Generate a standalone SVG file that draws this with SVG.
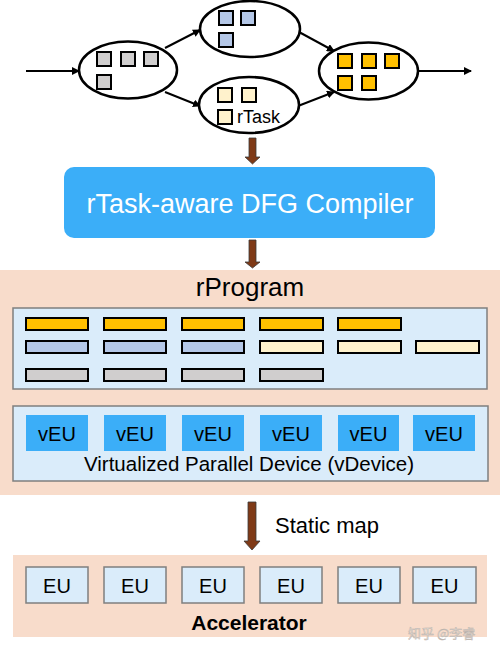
<svg xmlns="http://www.w3.org/2000/svg" width="500" height="653" viewBox="0 0 500 653">
<defs>
<marker id="ah" markerWidth="8" markerHeight="8" refX="7" refY="4" orient="auto" markerUnits="userSpaceOnUse">
<path d="M0,0 L8,4 L0,8 Z" fill="#000"/>
</marker>
<style>
.ell{fill:#fff;stroke:#000;stroke-width:2.5}
.sq{stroke:#000;stroke-width:2}
.g{fill:#D0CECE}.b{fill:#B4C7E7}.c{fill:#FFF2CC}.o{fill:#FFC000}
.conn{stroke:#000;stroke-width:2;fill:none;marker-end:url(#ah)}
.bar{stroke:#000;stroke-width:2}
.panel{fill:#F8DCCB}
.inner{fill:#DAECFA;stroke:#7F7F7F;stroke-width:1.5}
.veu{fill:#3BAEF8}
.eu{fill:#DAECFA;stroke:#7F7F7F;stroke-width:1.5}
.t{font-family:"Liberation Sans",Arial,sans-serif;fill:#000}
.bigarrow{fill:#7F3A17;stroke:#3a3a3a;stroke-width:0.8}
</style>
</defs>
<rect width="500" height="653" fill="#fff"/>

<g id="connectors">
<line class="conn" x1="26" y1="71" x2="79" y2="71"/>
<line class="conn" x1="165" y1="48" x2="200" y2="30"/>
<line class="conn" x1="165" y1="92" x2="200" y2="106"/>
<line class="conn" x1="299" y1="32" x2="334" y2="51"/>
<line class="conn" x1="298" y1="106" x2="334" y2="92"/>
<line class="conn" x1="418" y1="71" x2="471" y2="71"/>
<path class="bigarrow" d="M249,138 H256 V157 H260 L252.5,164 L245,157 H249 Z"/>
<path class="bigarrow" d="M249,240 H256 V262 H260 L252.5,268 L245,262 H249 Z"/>
<path class="bigarrow" d="M248,502 H256 V541 H260 L252,550 L244,541 H248 Z"/>
</g>

<g id="task-left">
<ellipse class="ell" cx="128" cy="70" rx="49" ry="28.5"/>
<rect class="sq g" x="97" y="52" width="14" height="14"/>
<rect class="sq g" x="121" y="52" width="14" height="14"/>
<rect class="sq g" x="144" y="52" width="14" height="14"/>
<rect class="sq g" x="97" y="75" width="14" height="14"/>
</g>

<g id="task-top">
<ellipse class="ell" cx="250" cy="29" rx="50" ry="28"/>
<rect class="sq b" x="219" y="11" width="14" height="14"/>
<rect class="sq b" x="241" y="11" width="14" height="14"/>
<rect class="sq b" x="219" y="33" width="14" height="14"/>
</g>

<g id="task-bottom">
<ellipse class="ell" cx="249" cy="105" rx="50" ry="28"/>
<rect class="sq c" x="218" y="88" width="14" height="14"/>
<rect class="sq c" x="242" y="88" width="14" height="14"/>
<rect class="sq c" x="218" y="110" width="14" height="14"/>
<text class="t" x="237" y="123" font-size="18">rTask</text>
</g>

<g id="task-right">
<ellipse class="ell" cx="368.5" cy="71" rx="49.5" ry="28.5"/>
<rect class="sq o" x="338" y="54" width="14" height="14"/>
<rect class="sq o" x="362" y="54" width="14" height="14"/>
<rect class="sq o" x="385" y="54" width="14" height="14"/>
<rect class="sq o" x="338" y="76" width="14" height="14"/>
<rect class="sq o" x="362" y="76" width="14" height="14"/>
</g>

<g id="compiler">
<rect x="64" y="167" width="371" height="71" rx="10" fill="#3BAEF8"/>
<text class="t" x="250" y="213" font-size="27" text-anchor="middle" style="fill:#fff">rTask-aware DFG Compiler</text>
</g>

<g id="rprogram">
<rect class="panel" x="0" y="270" width="500" height="225"/>
<text class="t" x="250" y="296" font-size="26" text-anchor="middle">rProgram</text>
<rect class="inner" x="13" y="308" width="474" height="81"/>
<rect class="bar o" x="26" y="318" width="62" height="12"/>
<rect class="bar o" x="104" y="318" width="62" height="12"/>
<rect class="bar o" x="182" y="318" width="62" height="12"/>
<rect class="bar o" x="260" y="318" width="63" height="12"/>
<rect class="bar o" x="338" y="318" width="63" height="12"/>
<rect class="bar b" x="26" y="341" width="62" height="12"/>
<rect class="bar b" x="104" y="341" width="62" height="12"/>
<rect class="bar b" x="182" y="341" width="62" height="12"/>
<rect class="bar c" x="260" y="341" width="63" height="12"/>
<rect class="bar c" x="338" y="341" width="63" height="12"/>
<rect class="bar c" x="416" y="341" width="63" height="12"/>
<rect class="bar g" x="26" y="369" width="62" height="12"/>
<rect class="bar g" x="104" y="369" width="62" height="12"/>
<rect class="bar g" x="182" y="369" width="62" height="12"/>
<rect class="bar g" x="260" y="369" width="63" height="12"/>
</g>

<g id="vdevice">
<rect class="inner" x="13" y="406" width="475" height="75"/>
<rect class="veu" x="26" y="415" width="62" height="36"/>
<rect class="veu" x="104" y="415" width="62" height="36"/>
<rect class="veu" x="182" y="415" width="62" height="36"/>
<rect class="veu" x="260" y="415" width="62" height="36"/>
<rect class="veu" x="338" y="415" width="61" height="36"/>
<rect class="veu" x="413" y="415" width="62" height="36"/>
<g class="t" font-size="20" text-anchor="middle">
<text class="t" x="57" y="441">vEU</text>
<text class="t" x="135" y="441">vEU</text>
<text class="t" x="213" y="441">vEU</text>
<text class="t" x="291" y="441">vEU</text>
<text class="t" x="368.5" y="441">vEU</text>
<text class="t" x="444" y="441">vEU</text>
</g>
<text class="t" x="249" y="471" font-size="20.5" text-anchor="middle">Virtualized Parallel Device (vDevice)</text>
</g>

<text class="t" x="275" y="533" font-size="22">Static map</text>

<g id="accelerator">
<rect class="panel" x="13" y="555" width="474" height="82"/>
<rect class="eu" x="26" y="567" width="62" height="36"/>
<rect class="eu" x="104" y="567" width="62" height="36"/>
<rect class="eu" x="182" y="567" width="62" height="36"/>
<rect class="eu" x="260" y="567" width="62" height="36"/>
<rect class="eu" x="338" y="567" width="62" height="36"/>
<rect class="eu" x="413" y="567" width="63" height="36"/>
<g font-size="20" text-anchor="middle">
<text class="t" x="57" y="593">EU</text>
<text class="t" x="135" y="593">EU</text>
<text class="t" x="213" y="593">EU</text>
<text class="t" x="291" y="593">EU</text>
<text class="t" x="369" y="593">EU</text>
<text class="t" x="444.5" y="593">EU</text>
</g>
<text class="t" x="249" y="630" font-size="21" font-weight="bold" text-anchor="middle">Accelerator</text>
<text x="408" y="638" font-size="13" font-family="'Noto Sans CJK SC',sans-serif" fill="#e4dcd6" stroke="#b8b0aa" stroke-width="0.4">知乎 @李睿</text>
</g>
</svg>
